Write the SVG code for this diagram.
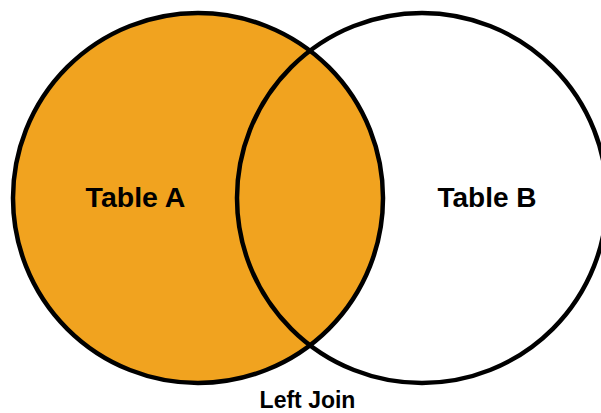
<svg xmlns="http://www.w3.org/2000/svg" width="601" height="413" viewBox="0 0 601 413">
<style>
.ring{stroke:#000;stroke-width:4.5}
.lbl{font-family:"Liberation Sans",Arial,sans-serif;font-weight:bold;fill:#000;text-anchor:middle}
</style>
<rect width="601" height="413" fill="#fff"/>
<g id="tableA">
<circle cx="198" cy="198" r="185" fill="#F1A31F" class="ring"/>
<text class="lbl" x="135.5" y="207" font-size="28.5">Table A</text>
</g>
<g id="tableB">
<circle cx="422" cy="198" r="185" fill="none" class="ring"/>
<text class="lbl" x="487" y="207" font-size="28">Table B</text>
</g>
<g id="caption">
<text class="lbl" x="307.5" y="408" font-size="23">Left Join</text>
</g>
<g id="connectors"/>
</svg>
